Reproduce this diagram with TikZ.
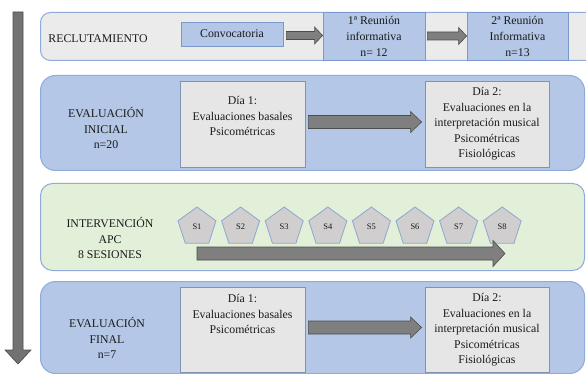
\documentclass[tikz,border=0pt]{standalone}
\usepackage{fontspec}
\setmainfont{Liberation Serif}
\usetikzlibrary{calc,shapes.geometric}
\definecolor{rowgray}{HTML}{EBEBEB}
\definecolor{rowborder}{HTML}{8FAADC}
\definecolor{boxblue}{HTML}{B4C7E7}
\definecolor{boxborder}{HTML}{7A98CC}
\definecolor{dayfill}{HTML}{E7E6E6}
\definecolor{dayborder}{HTML}{7F93B5}
\definecolor{rowgreen}{HTML}{E2F0D9}
\definecolor{pentfill}{HTML}{D0CECE}
\definecolor{pentborder}{HTML}{8EA6CF}
\definecolor{arrfill}{HTML}{7F7F7F}
\definecolor{arrdraw}{HTML}{4D4D4D}
\definecolor{txtcol}{HTML}{1A1A1A}
\newcommand\blockarrow[5]{%
  \path[blockarr] let \p1=(#1), \p2=(#2) in
    (\x1,\y1+#3) -- (\x2-#5,\y1+#3) -- (\x2-#5,\y1+#4) -- (\x2,\y1)
    -- (\x2-#5,\y1-#4) -- (\x2-#5,\y1-#3) -- (\x1,\y1-#3) -- cycle;}
\begin{document}
\begin{tikzpicture}[x=1pt,y=-1pt,
  rowbox/.style={draw=rowborder, line width=1pt, anchor=north west, inner sep=0pt},
  bluebox/.style={draw=boxborder, fill=boxblue, line width=0.8pt, inner sep=0pt, text=txtcol,
    align=center, font=\fontsize{11.8}{16}\selectfont},
  daybox/.style={draw=dayborder, fill=dayfill, line width=0.8pt, inner sep=0pt},
  txt/.style={text=txtcol, inner sep=0pt, align=center, font=\fontsize{11.8}{15.5}\selectfont},
  pent/.style={regular polygon, regular polygon sides=5, minimum size=40pt, inner sep=0pt, outer sep=0pt,
    draw=pentborder, fill=pentfill, line width=0.8pt, text=txtcol, font=\fontsize{8.5}{10}\selectfont},
  blockarr/.style={fill=arrfill, draw=arrdraw, line width=0.6pt}]
\useasboundingbox (0,0) rectangle (586,374);
\clip (0,0) rectangle (586,374);

% rows
\node[rowbox, fill=rowgray, rounded corners=10pt, minimum width=570pt, minimum height=48pt] (r1) at (40,12) {};
\node[rowbox, fill=boxblue, rounded corners=15pt, minimum width=544pt, minimum height=95pt] (r2) at (40,75) {};
\node[rowbox, fill=rowgreen, rounded corners=12pt, minimum width=544pt, minimum height=87pt] (r3) at (40,183) {};
\node[rowbox, fill=boxblue, rounded corners=15pt, minimum width=544pt, minimum height=92pt] (r4) at (40,281) {};

% left timeline arrow
\coordinate (ta) at (18,12);
\coordinate (tb) at (18,364);
\path[blockarr, fill=arrfill!90!black] let \p1=(ta), \p2=(tb) in
  (\x1-5pt,\y1) -- (\x1+5pt,\y1) -- (\x1+5pt,\y2+14pt) -- (\x1+13pt,\y2+14pt) -- (\x2,\y2)
  -- (\x1-13pt,\y2+14pt) -- (\x1-5pt,\y2+14pt) -- cycle;

% row 1
\node[txt] (l1) at (98,39) {RECLUTAMIENTO};
\node[bluebox, minimum width=102pt, minimum height=24pt] (c1) at (232,34) {Convocatoria};
\node[bluebox, minimum width=102pt, minimum height=48pt] (m1) at (374,36) {1ª Reunión\\informativa\\n= 12};
\node[bluebox, minimum width=101pt, minimum height=48pt] (m2) at (517.5,36) {2ª Reunión\\Informativa\\n=13};
\blockarrow{$(c1.east)+(3,1.5)$}{m1.west}{4pt}{8.5pt}{8pt}
\blockarrow{$(m1.east)+(2,0)$}{m2.west}{4pt}{8.5pt}{8pt}

% row 2
\node[txt] (l2) at (106,128) {EVALUACIÓN\\INICIAL\\n=20};
\node[daybox, minimum width=125pt, minimum height=86pt] (d1) at (242.5,124) {};
\node[txt] (d1t) at (242.5,116) {Día 1:\\Evaluaciones basales\\Psicométricas};
\node[daybox, minimum width=124pt, minimum height=86pt] (d2) at (487,124) {};
\node[txt] (d2t) at (487,124) {Día 2:\\Evaluaciones en la\\interpretación musical\\Psicométricas\\Fisiológicas};
\blockarrow{$(d1.east)+(3,-2)$}{$(d2.west)+(-3,0)$}{6.5pt}{10.5pt}{11pt}

% row 3
\node[txt] (l3) at (110,238) {INTERVENCIÓN\\APC\\8 SESIONES};
\foreach \i in {1,...,8}{
  \node[pent] (s\i) at ({197+43.6*(\i-1)},227) {S\i};
}
\coordinate (ia) at (197,253.5);
\coordinate (ib) at (505,253.5);
\blockarrow{ia}{ib}{6.5pt}{13pt}{12pt}

% row 4
\node[txt] (l4) at (107,338) {EVALUACIÓN\\FINAL\\n=7};
\node[daybox, minimum width=125pt, minimum height=85pt] (e1) at (242.5,329.5) {};
\node[txt] (e1t) at (242.5,314) {Día 1:\\Evaluaciones basales\\Psicométricas};
\node[daybox, minimum width=124pt, minimum height=85pt] (e2) at (487,329.5) {};
\node[txt] (e2t) at (487,330) {Día 2:\\Evaluaciones en la\\interpretación musical\\Psicométricas\\Fisiológicas};
\blockarrow{$(e1.east)+(3,-2)$}{$(e2.west)+(-3,0)$}{6.5pt}{10.5pt}{11pt}
\end{tikzpicture}
\end{document}
